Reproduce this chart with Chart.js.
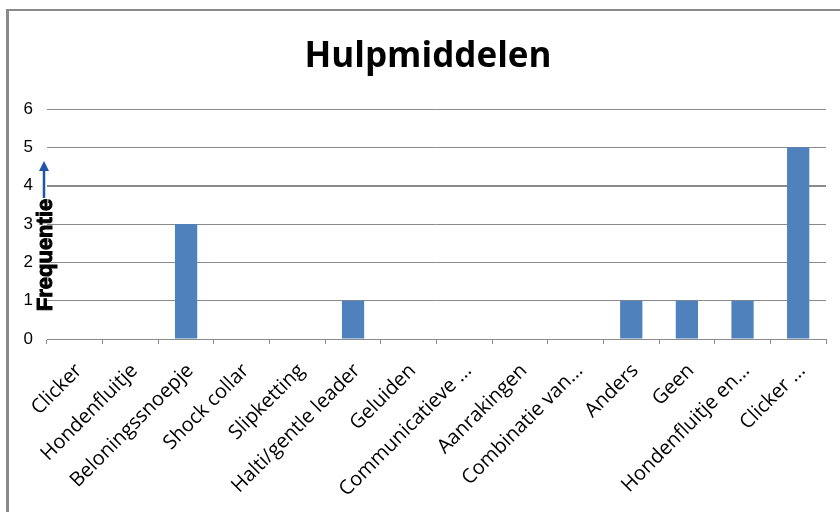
<!DOCTYPE html>
<html>
<head>
<meta charset="utf-8">
<script src="https://cdn.jsdelivr.net/npm/chart.js@4.4.0/dist/chart.umd.min.js"></script>
<style>
  body { margin: 0; background: #fff; }
  #wrap { width: 840px; height: 512px; position: relative; }
</style>
</head>
<body>
<div id="wrap"><canvas id="hulpChart"></canvas></div>
<script>
// categorieen en frequenties
const categories = ['Clicker', 'Hondenfluitje', 'Beloningssnoepje', 'Shock collar', 'Slipketting',
    'Halti/gentle leader', 'Geluiden', 'Communicatieve ...', 'Aanrakingen', 'Combinatie van...',
    'Anders', 'Geen', 'Hondenfluitje en...', 'Clicker ...'];
const frequenties = [0, 0, 3, 0, 0, 1, 0, 0, 0, 0, 1, 1, 1, 5];
const yTicks = [0, 1, 2, 3, 4, 5, 6];

const titel = 'Hulpmiddelen';
const asLabel = 'Frequentie';

// kader, titel en as-label met pijl
const extraPlugin = {
    id: 'extra',
    beforeDraw(chart) {
        const ctx = chart.ctx;
        ctx.save();
        ctx.fillStyle = '#fff';
        ctx.fillRect(0, 0, chart.width, chart.height);
        ctx.strokeStyle = '#8a8a8a';
        ctx.lineWidth = 2;
        ctx.beginPath();
        ctx.moveTo(6, 10);
        ctx.lineTo(chart.width, 10);
        ctx.stroke();
        ctx.lineWidth = 3;
        ctx.beginPath();
        ctx.moveTo(7.5, 9);
        ctx.lineTo(7.5, chart.height);
        ctx.stroke();
        // titel
        ctx.font = 'bold 35px "Open Sans"';
        ctx.fillStyle = '#000';
        ctx.textAlign = 'center';
        ctx.textBaseline = 'alphabetic';
        ctx.fillText(titel, 428, 67);
        ctx.restore();
    },
    afterDraw(chart) {
        const ctx = chart.ctx;
        ctx.save();
        // pijl
        const x = 44;
        const yTop = 161;
        const yBot = 198;
        ctx.strokeStyle = '#1f55a5';
        ctx.fillStyle = '#1f55a5';
        ctx.lineWidth = 2.5;
        ctx.beginPath();
        ctx.moveTo(x, yBot);
        ctx.lineTo(x, yTop + 6);
        ctx.stroke();
        ctx.beginPath();
        ctx.moveTo(x, yTop);
        ctx.lineTo(x - 5, yTop + 10);
        ctx.lineTo(x + 5, yTop + 10);
        ctx.closePath();
        ctx.fill();
        // label
        ctx.translate(46, 255);
        ctx.rotate(-Math.PI / 2);
        ctx.font = 'bold 22px "Liberation Sans"';
        ctx.fillStyle = '#000';
        ctx.textAlign = 'center';
        ctx.textBaseline = 'middle';
        ctx.lineWidth = 1;
        ctx.strokeStyle = '#000';
        ctx.fillText(asLabel, 0, 0);
        ctx.strokeText(asLabel, 0, 0);
        ctx.restore();
    }
};

const ctx = document.getElementById('hulpChart').getContext('2d');
const hulpChart = new Chart(ctx, {
    type: 'bar',
    data: {
        labels: categories,
        datasets: [{
            label: 'Frequentie',
            data: frequenties,
            backgroundColor: '#4f81bd',
            borderWidth: 0,
            barPercentage: 0.4,
            categoryPercentage: 1
        }]
    },
    options: {
        responsive: true,
        maintainAspectRatio: false,
        animation: false,
        layout: { padding: { left: 0, right: 14, top: 109, bottom: 0 } },
        plugins: {
            legend: { display: false },
            tooltip: { enabled: false },
            title: { display: false }
        },
        scales: {
            x: {
                afterFit(scale) { scale.height = 173; },
                grid: {
                    drawOnChartArea: false,
                    drawTicks: true,
                    tickLength: 5,
                    color: '#8a8a8a',
                    offset: true
                },
                border: { color: '#8a8a8a', width: 1 },
                ticks: {
                    color: '#000',
                    font: { family: '"Open Sans"', size: 20 },
                    minRotation: 45,
                    maxRotation: 45,
                    autoSkip: false,
                    padding: 15,
                    labelOffset: 4
                }
            },
            y: {
                min: 0,
                max: 6,
                afterFit(scale) { scale.width = 47; },
                afterBuildTicks(scale) { scale.ticks = yTicks.map(v => ({ value: v })); },
                grid: {
                    drawTicks: false,
                    color: '#8a8a8a',
                    lineWidth: c => (c.tick && c.tick.value === 4 ? 2 : 1)
                },
                border: { display: false },
                ticks: {
                    color: '#000',
                    font: { family: '"Liberation Sans"', size: 17 },
                    padding: 14
                }
            }
        }
    },
    plugins: [extraPlugin]
});
</script>
</body>
</html>
